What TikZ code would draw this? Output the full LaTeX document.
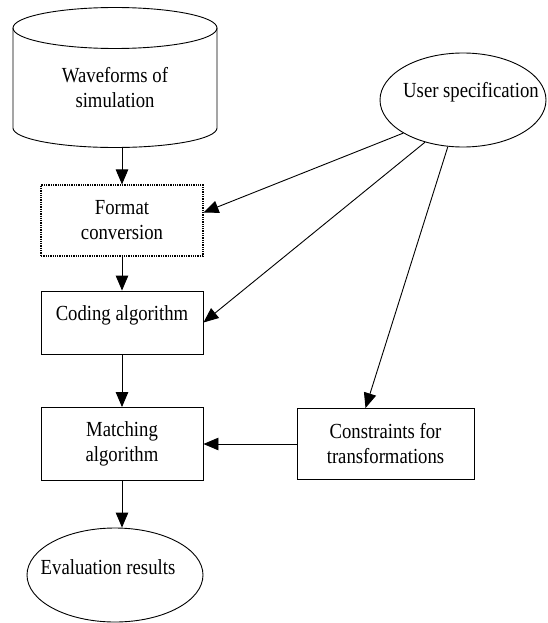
\documentclass[tikz,border=0pt]{standalone}
\usepackage{fontspec}
\setmainfont{Liberation Serif}[FakeStretch=0.87]
\usepackage{tikz}
\usetikzlibrary{arrows.meta,positioning,calc,shapes.geometric}
\tikzset{
    every node/.style={font=\fontsize{21.5}{25}\selectfont, align=center},
    procblock/.style={
        draw, line width=0.9pt,
        minimum width=162pt, inner sep=0pt,
        sharp corners
    },
    convblock/.style={
        procblock, line width=1.1pt, dash pattern=on 1.3pt off 1pt
    },
    termellipse/.style={
        draw, ellipse, line width=0.9pt, inner sep=0pt
    },
    flowarrow/.style={
        -{Triangle[length=15pt,width=12.5pt]}, line width=0.9pt
    },
}

\begin{document}
\begin{tikzpicture}[x=1pt,y=-1pt]
    \useasboundingbox (0,0) rectangle (548,623);

    % Waveform store (cylinder)
    \draw[line width=0.9pt] (115,28) ellipse[x radius=102pt, y radius=20.5pt];
    \draw[line width=0.9pt] (13,28) -- (13,128)
        arc[start angle=180, end angle=360, x radius=102pt, y radius=19.5pt]
        -- (217,28);
    \node (wave) at (115,87.5) {Waveforms of\\simulation};
    \coordinate (wavebot) at (122,147);

    % User input
    \node[termellipse, minimum width=166pt, minimum height=94pt] (user) at (463,100) {};
    \node (usertxt) at (471,92) {User specification};

    % Processing chain
    \node[convblock, minimum height=71pt] (fmt) at (122,220.5) {Format\\conversion};
    \node[procblock, minimum height=63pt] (code) at (122,322.5) {Coding algorithm\\[-7pt]\mbox{}};
    \node[procblock, minimum height=73pt] (match) at (122,444) {Matching\\algorithm};
    \node[procblock, minimum width=177pt, minimum height=71pt] (cons) at (385.5,444) {Constraints for\\transformations};

    % Result
    \node[termellipse, minimum width=176pt, minimum height=94pt] (eval) at (115,575) {};
    \node (evaltxt) at (108,567) {Evaluation results};

    % Main flow
    \draw[flowarrow] (wavebot) -- (fmt.north);
    \draw[flowarrow] (fmt.south) -- (code.north);
    \draw[flowarrow] (code.south) -- (match.north);
    \draw[flowarrow] (match.south) -- (eval.north -| match);
    \draw[flowarrow] (cons.west) -- (match.east);

    % From user specification
    \draw[flowarrow] (user.209) -- ([yshift=8pt]fmt.east);
    \draw[flowarrow] (user.228) -- (code.east);
    \draw[flowarrow] (user.252) -- ([xshift=-20pt]cons.north);
\end{tikzpicture}
\end{document}
